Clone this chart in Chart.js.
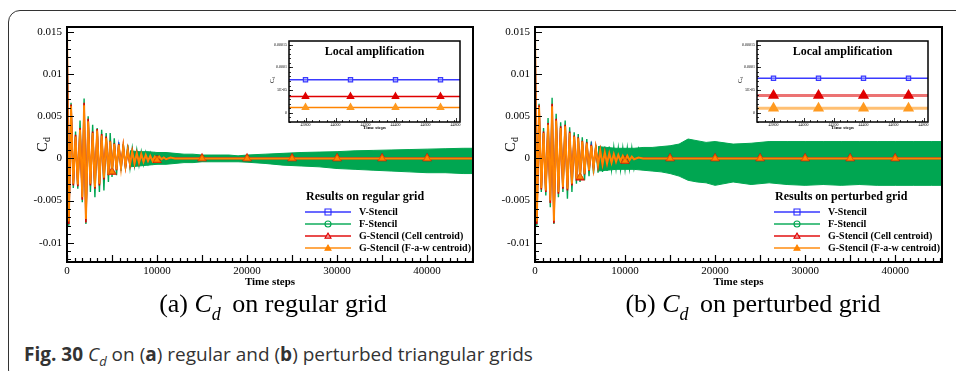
<!DOCTYPE html>
<html>
<head>
<meta charset="utf-8">
<script src="https://cdn.jsdelivr.net/npm/chart.js@4.4.1/dist/chart.umd.min.js"></script>
<style>
  body { margin:0; width:956px; height:371px; overflow:hidden; background:#fff; position:relative; }
  .frame { position:absolute; left:8px; top:10px; width:1000px; height:372px; border:1.5px solid #333; border-radius:12px; box-sizing:border-box; }
  canvas { position:absolute; }
  .sub { position:absolute; top:291px; width:546px; text-align:center; font-family:'Liberation Serif', serif; font-size:26px; line-height:26px; color:#000; white-space:nowrap; }
  .sub sub { font-size:18px; line-height:0; vertical-align:-8px; margin-right:5px; }
  .cap { position:absolute; left:24px; top:345px; font-family:'Open Sans', sans-serif; font-size:19px; line-height:19px; color:#333; white-space:nowrap; }
  .cap sub { font-size:13px; line-height:0; }
</style>
</head>
<body>
<div class="frame"></div>
<canvas id="cdReg" width="480" height="300" style="left:0;top:0"></canvas>
<canvas id="cdPert" width="480" height="300" style="left:468px;top:0"></canvas>
<canvas id="zoomReg" width="202" height="100" style="left:262px;top:36px"></canvas>
<canvas id="zoomPert" width="202" height="100" style="left:730px;top:36px"></canvas>
<div class="sub" style="left:0">(a) <i>C<sub>d</sub></i> on regular grid</div>
<div class="sub" style="left:480px">(b) <i>C<sub>d</sub></i> on perturbed grid</div>
<div class="cap"><b>Fig. 30</b> <i>C<sub>d</sub></i> on (<b>a</b>) regular and (<b>b</b>) perturbed triangular grids</div>
<script>
// time steps of the sampled curve (peaks / troughs of the early transient, then flat)
var tSteps = [
  0, 200, 450, 700, 950, 1200, 1450, 1700,
  1900, 2100, 2350, 2600, 2850, 3100, 3350, 3600,
  3850, 4100, 4350, 4600, 4800, 5000, 5250, 5500,
  5750, 6000, 6250, 6500, 6750, 7000, 7250, 7500,
  7750, 8000, 8250, 8500, 8750, 9000, 9250, 9500,
  9750, 10000, 10250, 10500, 10750, 11000, 11500, 12000,
  15000, 20000, 25000, 30000, 35000, 40000, 45200];

// (a) regular grid
var cdV_reg = [
  0.0150, -0.0074, 0.0060, -0.0029, 0.0025, -0.0030, 0.0033, -0.0045,
  0.0061, -0.0070, 0.0043, -0.0029, 0.0029, -0.0033, 0.0032, -0.0029,
  0.0026, -0.0022, 0.0023, -0.0018, 0.0019, -0.0015, 0.0016, -0.0012,
  0.0015, -0.0010, 0.0013, -0.0009, 0.0009, -0.0007, 0.0007, -0.0006,
  0.0006, -0.0005, 0.0004, -0.0004, 0.0003, -0.0003, 0.0003, -0.0002,
  0.0002, -0.0002, 0.0001, -0.0001, 0.0001, -0.0001, 0.0001, 0,
  0, 0, 0, 0, 0, 0, 0];
var cdF_reg = [
  0.0150, -0.0080, 0.0066, -0.0035, 0.0032, -0.0036, 0.0045, -0.0052,
  0.0071, -0.0078, 0.0050, -0.0040, 0.0040, -0.0046, 0.0036, -0.0040,
  0.0034, -0.0038, 0.0030, -0.0028, 0.0030, -0.0022, 0.0024, -0.0020,
  0.0019, -0.0015, 0.0017, -0.0012, 0.0016, -0.0011, 0.0012, -0.0009,
  0.0010, -0.0008, 0.0008, -0.0007, 0.0007, -0.0006, 0.0006, -0.0005,
  0.0005, -0.0005, 0.0004, -0.0004, 0.0004, -0.0004, 0.0003, 0,
  0, 0, 0, 0, 0, 0, 0];
var cdCell_reg = [
  0.0150, -0.0078, 0.0064, -0.0032, 0.0028, -0.0033, 0.0036, -0.0049,
  0.0066, -0.0076, 0.0047, -0.0032, 0.0032, -0.0036, 0.0035, -0.0032,
  0.0029, -0.0025, 0.0026, -0.0020, 0.0021, -0.0016, 0.0018, -0.0014,
  0.0017, -0.0012, 0.0015, -0.0010, 0.0011, -0.0008, 0.0009, -0.0007,
  0.0007, -0.0006, 0.0005, -0.0004, 0.0004, -0.0003, 0.0003, -0.0003,
  0.0002, -0.0002, 0.0002, -0.0001, 0.0001, -0.0001, 0.0001, 0,
  0, 0, 0, 0, 0, 0, 0];
var cdFaw_reg = [
  0.0152, -0.0075, 0.0062, -0.0030, 0.0026, -0.0031, 0.0034, -0.0046,
  0.0063, -0.0072, 0.0044, -0.0030, 0.0030, -0.0034, 0.0033, -0.0030,
  0.0027, -0.0023, 0.0024, -0.0019, 0.0020, -0.0016, 0.0017, -0.0013,
  0.0016, -0.0011, 0.0014, -0.0009, 0.0010, -0.0007, 0.0008, -0.0006,
  0.0006, -0.0005, 0.0005, -0.0004, 0.0004, -0.0003, 0.0003, -0.0003,
  0.0002, -0.0002, 0.0002, -0.0001, 0.0001, -0.0001, 0.0001, 0,
  0, 0, 0, 0, 0, 0, 0];

// (b) perturbed grid
var cdV_pert = [
  0.0150, -0.0073, 0.0059, -0.0034, 0.0029, -0.0036, 0.0038, -0.0048,
  0.0060, -0.0072, 0.0043, -0.0038, 0.0034, -0.0033, 0.0036, -0.0034,
  0.0029, -0.0028, 0.0025, -0.0023, 0.0023, -0.0021, 0.0019, -0.0017,
  0.0017, -0.0013, 0.0014, -0.0010, 0.0011, -0.0008, 0.0008, -0.0006,
  0.0006, -0.0005, 0.0005, -0.0004, 0.0004, -0.0003, 0.0003, -0.0003,
  0.0002, -0.0002, 0.0002, -0.0001, 0.0001, -0.0001, 0.0001, 0,
  0, 0, 0, 0, 0, 0, 0];
var cdF_pert = [
  0.0150, -0.0080, 0.0065, -0.0040, 0.0036, -0.0044, 0.0048, -0.0058,
  0.0072, -0.0078, 0.0053, -0.0046, 0.0043, -0.0040, 0.0045, -0.0048,
  0.0037, -0.0040, 0.0031, -0.0030, 0.0029, -0.0028, 0.0025, -0.0026,
  0.0023, -0.0021, 0.0020, -0.0018, 0.0016, -0.0017, 0.0015, -0.0016,
  0.0014, -0.0015, 0.0014, -0.0013, 0.0013, -0.0012, 0.0012, -0.0013,
  0.0012, -0.0013, 0.0012, -0.0012, 0.0012, -0.0012, 0.0012, 0,
  0, 0, 0, 0, 0, 0, 0];
var cdCell_pert = [
  0.0150, -0.0078, 0.0063, -0.0037, 0.0032, -0.0040, 0.0042, -0.0053,
  0.0065, -0.0077, 0.0047, -0.0042, 0.0038, -0.0036, 0.0040, -0.0038,
  0.0032, -0.0032, 0.0027, -0.0025, 0.0025, -0.0023, 0.0021, -0.0019,
  0.0019, -0.0015, 0.0016, -0.0012, 0.0013, -0.0009, 0.0010, -0.0008,
  0.0008, -0.0006, 0.0006, -0.0005, 0.0005, -0.0004, 0.0004, -0.0003,
  0.0003, -0.0003, 0.0003, -0.0002, 0.0002, -0.0001, 0.0001, 0,
  0, 0, 0, 0, 0, 0, 0];
var cdFaw_pert = [
  0.0152, -0.0075, 0.0061, -0.0035, 0.0030, -0.0038, 0.0040, -0.0050,
  0.0062, -0.0074, 0.0045, -0.0040, 0.0036, -0.0034, 0.0038, -0.0036,
  0.0030, -0.0030, 0.0026, -0.0024, 0.0024, -0.0022, 0.0020, -0.0018,
  0.0018, -0.0014, 0.0015, -0.0011, 0.0012, -0.0008, 0.0009, -0.0007,
  0.0007, -0.0006, 0.0006, -0.0005, 0.0005, -0.0004, 0.0004, -0.0003,
  0.0003, -0.0003, 0.0003, -0.0002, 0.0002, -0.0001, 0.0001, 0,
  0, 0, 0, 0, 0, 0, 0];

// envelope of the high-frequency F-Stencil oscillation
var bandSteps = [7000, 8000, 9000, 10000, 11000, 12000, 13000, 14000, 15000,
  16000, 17000, 18000, 19000, 20000, 22000, 24000, 26000, 28000,
  30000, 32000, 34000, 36000, 38000, 40000, 42000, 44000, 45200];
var bandUp_reg = [0.0009, 0.0008, 0.0008, 0.0007, 0.0007, 0.0006, 0.0005, 0.0005, 0.0004,
  0.0004, 0.0004, 0.0004, 0.0003, 0.0004, 0.0005, 0.0006, 0.0007, 0.00075,
  0.0008, 0.0009, 0.00095, 0.001, 0.00105, 0.0011, 0.00115, 0.0012, 0.0012];
var bandLo_reg = [-0.0010, -0.0009, -0.0008, -0.0007, -0.0007, -0.0006, -0.0005, -0.0005, -0.0004,
  -0.0004, -0.0004, -0.0004, -0.0004, -0.00045, -0.0006, -0.0008, -0.0009, -0.001,
  -0.0012, -0.0013, -0.0014, -0.0015, -0.0016, -0.0017, -0.0017, -0.0018, -0.0018];
var bandUp_pert = [0.0014, 0.0013, 0.0012, 0.0012, 0.0012, 0.0013, 0.0013, 0.0014, 0.0015,
  0.0017, 0.0023, 0.0021, 0.0019, 0.0020, 0.0017, 0.0018, 0.0020, 0.0020,
  0.0020, 0.0020, 0.0020, 0.0020, 0.0020, 0.0020, 0.0020, 0.0020, 0.0020];
var bandLo_pert = [-0.0015, -0.0014, -0.0013, -0.0013, -0.0013, -0.0014, -0.0015, -0.0016, -0.0018,
  -0.0021, -0.0026, -0.0028, -0.0029, -0.0032, -0.0028, -0.0031, -0.0029, -0.0031,
  -0.0032, -0.0031, -0.0032, -0.0031, -0.0032, -0.0032, -0.0032, -0.0032, -0.0032];

var markerSteps = [5000, 10000, 15000, 20000, 25000, 30000, 35000, 40000];
var seriesNames = ['V-Stencil', 'F-Stencil', 'G-Stencil (Cell centroid)', 'G-Stencil (F-a-w centroid)'];

var yTickVals = [-0.01, -0.005, 0, 0.005, 0.01, 0.015];
var yTickLabels = ['-0.01', '-0.005', '0', '0.005', '0.01', '0.015'];
var xTickVals = [0, 10000, 20000, 30000, 40000];
var xTickLabels = ['0', '10000', '20000', '30000', '40000'];

// insets "Local amplification"
var insetSteps = [43600, 43800, 44100, 44400, 44700, 44900];
var insetMarkSteps = [43800, 44100, 44400, 44700];
var insetV_reg = [0.000073, 0.000073, 0.000073, 0.000073, 0.000073, 0.000073];
var insetCell_reg = [0.000036, 0.000036, 0.000036, 0.000036, 0.000036, 0.000036];
var insetFaw_reg = [0.000012, 0.000012, 0.000012, 0.000012, 0.000012, 0.000012];
var insetV_pert = [0.000076, 0.000076, 0.000076, 0.000076, 0.000076, 0.000076];
var insetCell_pert = [0.000038, 0.000038, 0.000038, 0.000038, 0.000038, 0.000038];
var insetFaw_pert = [0.000010, 0.000010, 0.000010, 0.000010, 0.000010, 0.000010];
var insetYVals = [0, 0.00005, 0.0001, 0.00015];
var insetYLabels = ['0', '5E-05', '0.0001', '0.00015'];
var insetXVals = [43800, 44000, 44200, 44400, 44600, 44800];
var insetXLabels = ['43800', '44000', '44200', '44400', '44600', '44800'];

var BLUE = '#2a2aff', GREEN = '#00a651', RED = '#e00000', ORANGE = '#ff8400';
var SERIF = "'Liberation Serif', 'Times New Roman', serif";

function pts(xs, ys) {
  var arr = [];
  for (var i = 0; i < xs.length; i++) arr.push({x: xs[i], y: ys[i]});
  return arr;
}

function markerRadius(list, r) {
  return function (c) {
    if (!c.raw) return 0;
    return list.indexOf(c.raw.x) >= 0 ? r : 0;
  };
}

function drawMark(ctx, style, x, y, r, stroke, fill) {
  ctx.beginPath();
  if (style === 'rect') ctx.rect(x - r, y - r, 2 * r, 2 * r);
  else if (style === 'triangle') {
    ctx.moveTo(x, y - r); ctx.lineTo(x + r, y + r * 0.75); ctx.lineTo(x - r, y + r * 0.75); ctx.closePath();
  } else ctx.arc(x, y, r, 0, Math.PI * 2);
  if (fill) { ctx.fillStyle = fill; ctx.fill(); }
  ctx.strokeStyle = stroke; ctx.lineWidth = 1.1; ctx.stroke();
}

function drawCd(ctx, x, y, size) {
  // rotated "C" with subscript "d"
  ctx.save();
  ctx.translate(x, y);
  ctx.rotate(-Math.PI / 2);
  ctx.fillStyle = '#000';
  ctx.textBaseline = 'alphabetic';
  ctx.textAlign = 'left';
  ctx.font = size + 'px ' + SERIF;
  var w = ctx.measureText('C').width;
  ctx.fillText('C', -w / 2 - size * 0.15, size * 0.35);
  ctx.font = Math.round(size * 0.7) + 'px ' + SERIF;
  ctx.fillText('d', w / 2 - size * 0.12, size * 0.55);
  ctx.restore();
}

// box, inward ticks, axis titles and the in-plot legend
var framePlugin = {
  id: 'frame',
  afterDraw: function (chart, args, o) {
    var ctx = chart.ctx, a = chart.chartArea, sx = chart.scales.x, sy = chart.scales.y;
    ctx.save();
    ctx.strokeStyle = '#000';
    ctx.lineWidth = o.tickWidth;
    ctx.beginPath();
    o.xMajor.forEach(function (v) {
      var px = Math.round(sx.getPixelForValue(v)) + 0.5;
      ctx.moveTo(px, a.bottom); ctx.lineTo(px, a.bottom - o.majorLen);
    });
    for (var v = sx.min + o.xMinor; v < sx.max; v += o.xMinor) {
      var px = Math.round(sx.getPixelForValue(v)) + 0.5;
      ctx.moveTo(px, a.bottom); ctx.lineTo(px, a.bottom - o.minorLen);
    }
    o.yMajor.forEach(function (v) {
      var py = Math.round(sy.getPixelForValue(v)) + 0.5;
      ctx.moveTo(a.left, py); ctx.lineTo(a.left + o.majorLen, py);
    });
    var start = Math.ceil(sy.min / o.yMinor - 1e-6) * o.yMinor;
    for (var w = start; w <= sy.max; w += o.yMinor) {
      var py = Math.round(sy.getPixelForValue(w)) + 0.5;
      ctx.moveTo(a.left, py); ctx.lineTo(a.left + o.minorLen, py);
    }
    ctx.stroke();
    ctx.lineWidth = o.boxWidth;
    ctx.strokeRect(a.left, a.top, a.right - a.left, a.bottom - a.top);

    // axis titles
    ctx.fillStyle = '#000';
    ctx.textAlign = 'center';
    ctx.textBaseline = 'middle';
    ctx.font = 'bold ' + o.xTitleSize + 'px ' + SERIF;
    ctx.fillText('Time steps', (a.left + a.right) / 2, a.bottom + o.xTitleGap);
    drawCd(ctx, a.left - o.yTitleGap, o.yTitleY, o.yTitleSize);

    if (o.title) {
      ctx.font = 'bold 12px ' + SERIF;
      ctx.fillText(o.title, (a.left + a.right) / 2, a.top + 11);
    }

    if (o.legendTitle) {
      var bx = a.right, by = a.bottom;
      ctx.textAlign = 'left';
      ctx.font = 'bold 12px ' + SERIF;
      ctx.fillText(o.legendTitle, bx - 167, by - 65);
      ctx.font = 'bold 10px ' + SERIF;
      var rows = chart.data.datasets.filter(function (d) { return d.legendRow !== undefined; });
      rows.sort(function (p, q) { return p.legendRow - q.legendRow; });
      rows.forEach(function (d) {
        var ly = by - 50 + d.legendRow * 12;
        ctx.save();
        ctx.globalAlpha = 0.7;
        ctx.strokeStyle = d.borderColor;
        ctx.lineWidth = 2;
        ctx.beginPath(); ctx.moveTo(bx - 168, ly); ctx.lineTo(bx - 122, ly); ctx.stroke();
        ctx.restore();
        drawMark(ctx, d.legendStyle, bx - 145, ly, 3, d.borderColor, d.legendFill);
        ctx.fillStyle = '#000';
        ctx.fillText(d.label, bx - 114, ly);
      });
    }
    ctx.restore();
  }
};

function mainChart(id, v, f, cell, faw, up, lo, xMax, rightPad, legendTitle) {
  var ctx = document.getElementById(id).getContext('2d');
  return new Chart(ctx, {
    type: 'line',
    data: {
      datasets: [
        { label: seriesNames[3], legendRow: 3, legendStyle: 'triangle', data: pts(tSteps, faw), order: 0,
          borderColor: ORANGE, borderWidth: 2, pointStyle: 'triangle',
          pointRadius: markerRadius(markerSteps, 4), pointBackgroundColor: ORANGE,
          pointBorderColor: '#e06000', pointBorderWidth: 1, legendFill: ORANGE },
        { label: seriesNames[2], legendRow: 2, legendStyle: 'triangle', data: pts(tSteps, cell), order: 1,
          borderColor: RED, borderWidth: 1.6, pointStyle: 'triangle',
          pointRadius: markerRadius(markerSteps, 4), pointBackgroundColor: RED,
          pointBorderColor: RED, legendFill: '#f09090' },
        { label: seriesNames[0], legendRow: 0, legendStyle: 'rect', data: pts(tSteps, v), order: 2,
          borderColor: BLUE, borderWidth: 1.4, pointRadius: 0, legendFill: null },
        { label: seriesNames[1], legendRow: 1, legendStyle: 'circle', data: pts(tSteps, f), order: 3,
          borderColor: GREEN, borderWidth: 1.4, pointRadius: 0, legendFill: null },
        { label: 'F-Stencil upper', data: pts(bandSteps, up), order: 4,
          borderColor: GREEN, borderWidth: 1, pointRadius: 0,
          backgroundColor: GREEN, fill: '+1' },
        { label: 'F-Stencil lower', data: pts(bandSteps, lo), order: 4,
          borderColor: GREEN, borderWidth: 1, pointRadius: 0, fill: false }
      ]
    },
    options: {
      responsive: false,
      animation: false,
      events: [],
      layout: { padding: { top: 27, right: rightPad, left: 0, bottom: 0 } },
      elements: { line: { tension: 0 } },
      plugins: {
        legend: { display: false },
        tooltip: { enabled: false },
        frame: {
          xMajor: [0, 5000, 10000, 15000, 20000, 25000, 30000, 35000, 40000],
          xMinor: 5000 / 6, yMajor: yTickVals, yMinor: 0.001,
          majorLen: 7, minorLen: 4, tickWidth: 1.2, boxWidth: 2,
          xTitleSize: 11, xTitleGap: 20, yTitleGap: 25, yTitleY: 145, yTitleSize: 14,
          legendTitle: legendTitle
        }
      },
      scales: {
        x: {
          type: 'linear', min: 0, max: xMax,
          grid: { display: false, drawTicks: false }, border: { display: false },
          afterBuildTicks: function (s) { s.ticks = xTickVals.map(function (t) { return {value: t}; }); },
          afterFit: function (s) { s.height = 38; },
          ticks: { padding: 3, color: '#000', font: { family: SERIF, size: 11 }, maxRotation: 0,
            callback: function (val) { return xTickLabels[xTickVals.indexOf(val)]; } }
        },
        y: {
          type: 'linear', min: -0.0123, max: 0.0156,
          grid: { display: false, drawTicks: false }, border: { display: false },
          afterBuildTicks: function (s) { s.ticks = yTickVals.map(function (t) { return {value: t}; }); },
          afterFit: function (s) { s.width = 67; },
          ticks: { padding: 5, color: '#000', font: { family: SERIF, size: 11 },
            callback: function (val) { return yTickLabels[yTickVals.indexOf(val)]; } }
        }
      }
    },
    plugins: [framePlugin]
  });
}

function insetChart(id, v, cell, faw, heavy) {
  var ctx = document.getElementById(id).getContext('2d');
  return new Chart(ctx, {
    type: 'line',
    data: {
      datasets: [
        { label: seriesNames[3], data: pts(insetSteps, faw), order: 0,
          borderColor: heavy ? 'rgba(255,140,0,0.55)' : ORANGE, borderWidth: heavy ? 3 : 1.4,
          pointStyle: 'triangle', pointRadius: markerRadius(insetMarkSteps, 3.5),
          pointBackgroundColor: '#ff9a20', pointBorderColor: '#ff9a20' },
        { label: seriesNames[2], data: pts(insetSteps, cell), order: 1,
          borderColor: heavy ? 'rgba(220,0,0,0.55)' : RED, borderWidth: heavy ? 3 : 1.4,
          pointStyle: 'triangle', pointRadius: markerRadius(insetMarkSteps, 3.5),
          pointBackgroundColor: RED, pointBorderColor: RED },
        { label: seriesNames[0], data: pts(insetSteps, v), order: 2,
          borderColor: '#3a3aff', borderWidth: 1.4,
          pointStyle: 'rect', pointRadius: markerRadius(insetMarkSteps, 3),
          pointBackgroundColor: 'rgba(160,170,255,0.5)', pointBorderColor: '#3a3aff', pointBorderWidth: 1.2 }
      ]
    },
    options: {
      responsive: false,
      animation: false,
      events: [],
      layout: { padding: { top: 5, right: 4, left: 0, bottom: 0 } },
      elements: { line: { tension: 0 } },
      plugins: {
        legend: { display: false },
        tooltip: { enabled: false },
        frame: {
          xMajor: insetXVals, xMinor: 50, yMajor: insetYVals, yMinor: 0.00001,
          majorLen: 4, minorLen: 2, tickWidth: 0.8, boxWidth: 1.5,
          xTitleSize: 5, xTitleGap: 6, yTitleGap: 17, yTitleY: 44, yTitleSize: 6,
          title: 'Local amplification'
        }
      },
      scales: {
        x: {
          type: 'linear', min: 43690, max: 44830,
          grid: { display: false, drawTicks: false }, border: { display: false },
          afterBuildTicks: function (s) { s.ticks = insetXVals.map(function (t) { return {value: t}; }); },
          afterFit: function (s) { s.height = 14; },
          ticks: { padding: 1, color: '#000', font: { family: SERIF, size: 4 }, maxRotation: 0,
            callback: function (val) { return insetXLabels[insetXVals.indexOf(val)]; } }
        },
        y: {
          type: 'linear', min: -0.00002, max: 0.000158,
          grid: { display: false, drawTicks: false }, border: { display: false },
          afterBuildTicks: function (s) { s.ticks = insetYVals.map(function (t) { return {value: t}; }); },
          afterFit: function (s) { s.width = 27; },
          ticks: { padding: 2, color: '#000', font: { family: SERIF, size: 4 },
            callback: function (val) { return insetYLabels[insetYVals.indexOf(val)]; } }
        }
      }
    },
    plugins: [framePlugin]
  });
}

mainChart('cdReg', cdV_reg, cdF_reg, cdCell_reg, cdFaw_reg, bandUp_reg, bandLo_reg, 45100, 7, 'Results on regular grid');
mainChart('cdPert', cdV_pert, cdF_pert, cdCell_pert, cdFaw_pert, bandUp_pert, bandLo_pert, 45200, 6, 'Results on perturbed grid');
insetChart('zoomReg', insetV_reg, insetCell_reg, insetFaw_reg, false);
insetChart('zoomPert', insetV_pert, insetCell_pert, insetFaw_pert, true);
</script>
</body>
</html>
